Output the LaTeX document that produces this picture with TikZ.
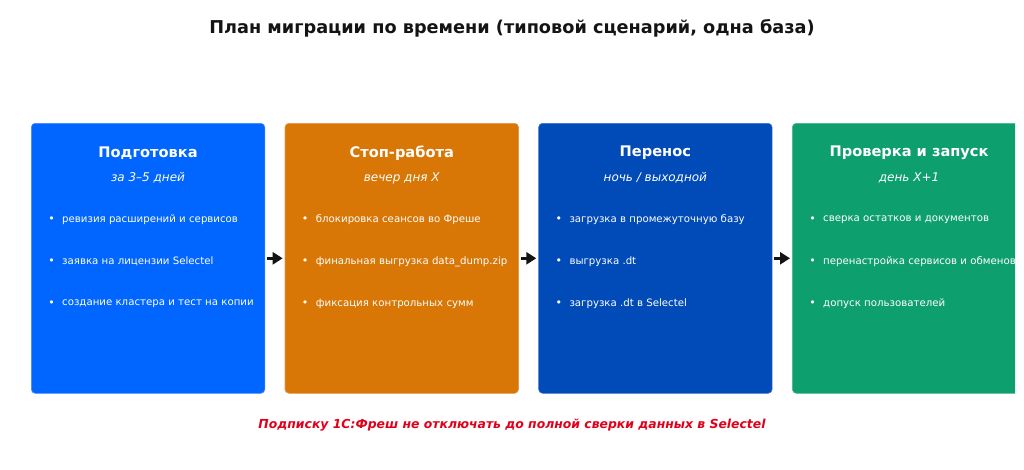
\documentclass[tikz,border=0pt]{standalone}
\usepackage{fontspec}
\setmainfont{DejaVu Sans}
\usetikzlibrary{arrows.meta}
\definecolor{cA}{HTML}{0066FF}
\definecolor{cB}{HTML}{D97706}
\definecolor{cC}{HTML}{004BB8}
\definecolor{cD}{HTML}{0E9F6E}
\definecolor{ttlc}{HTML}{141414}
\definecolor{warnc}{HTML}{E0001B}
\tikzset{
  stage/.style={rounded corners=4pt, minimum width=233.5pt, minimum height=270pt, anchor=north west, inner sep=0pt},
  stitle/.style={text=white, font=\fontsize{14.6}{17}\selectfont\bfseries, inner sep=0pt},
  ssub/.style={text=white, font=\fontsize{12}{14}\selectfont\itshape, inner sep=0pt},
  sdot/.style={text=white, font=\fontsize{11}{12}\selectfont, inner sep=0pt},
  sitem/.style={text=white, font=\fontsize{10.2}{12}\selectfont, inner sep=0pt, anchor=west},
  flow/.style={-{Triangle[length=10pt,width=12pt]}, line width=3pt, draw=ttlc},
}
\newcommand{\stagebox}[8]{%
  \node[stage, fill=#2, draw=#2!75!white, line width=0.6pt] (#1) at (#3,123) {};
  \node[stitle] (#1t) at ([yshift=-29.8pt]#1.north) {#4};
  \node[ssub] (#1s) at ([yshift=-55pt]#1.north) {#5};
  \node[sdot] (#1d1) at ([xshift=20.5pt,yshift=-96.8pt]#1.north west) {•};
  \node[sitem] (#1i1) at ([xshift=31pt,yshift=-96.8pt]#1.north west) {#6};
  \node[sdot] (#1d2) at ([xshift=20.5pt,yshift=-138.8pt]#1.north west) {•};
  \node[sitem] (#1i2) at ([xshift=31pt,yshift=-138.8pt]#1.north west) {#7};
  \node[sdot] (#1d3) at ([xshift=20.5pt,yshift=-180.8pt]#1.north west) {•};
  \node[sitem] (#1i3) at ([xshift=31pt,yshift=-180.8pt]#1.north west) {#8};
}
\begin{document}
\begin{tikzpicture}[x=1pt,y=-1pt]
\useasboundingbox[fill=white] (0,0) rectangle (1024,469);
\begin{scope}
\clip (0,0) rectangle (1015,469);
\node[text=ttlc, font=\fontsize{17.7}{21}\selectfont\bfseries, inner sep=0pt] (title) at (512,28.5) {План миграции по времени (типовой сценарий, одна база)};
\stagebox{b1}{cA}{31}{Подготовка}{за 3–5 дней}{ревизия расширений и сервисов}{заявка на лицензии Selectel}{создание кластера и тест на копии}
\stagebox{b2}{cB}{284.7}{Стоп-работа}{вечер дня X}{блокировка сеансов во Фреше}{финальная выгрузка data\_dump.zip}{фиксация контрольных сумм}
\stagebox{b3}{cC}{538.3}{Перенос}{ночь / выходной}{загрузка в промежуточную базу}{выгрузка .dt}{загрузка .dt в Selectel}
\stagebox{b4}{cD}{792}{Проверка и запуск}{день X+1}{сверка остатков и документов}{перенастройка сервисов и обменов}{допуск пользователей}
\draw[flow] ([xshift=2pt]b1.east) -- ([xshift=-2pt]b2.west);
\draw[flow] ([xshift=2pt]b2.east) -- ([xshift=-2pt]b3.west);
\draw[flow] ([xshift=2pt]b3.east) -- ([xshift=-2pt]b4.west);
\node[text=warnc, font=\fontsize{12.4}{15}\selectfont\bfseries\itshape, inner sep=0pt] (warn) at (512,425) {Подписку 1С:Фреш не отключать до полной сверки данных в Selectel};
\end{scope}
\end{tikzpicture}
\end{document}
